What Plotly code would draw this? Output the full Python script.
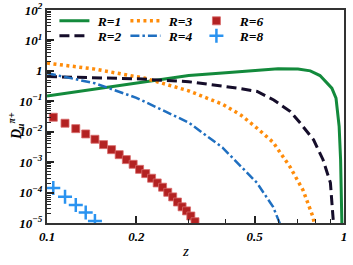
import plotly.graph_objects as go

# ---- data ----
z_r1 = [0.1, 0.15, 0.2, 0.3, 0.4, 0.5, 0.6, 0.7, 0.77, 0.83, 0.87, 0.91, 0.94, 0.952, 0.963, 0.974, 0.98, 0.985]
d_r1 = [0.15, 0.27, 0.39, 0.7, 0.86, 1.05, 1.17, 1.15, 1.0, 0.7, 0.44, 0.27, 0.126, 0.05, 0.015, 1.2e-3, 6e-5, 5e-6]

z_r2 = [0.1, 0.15, 0.2, 0.3, 0.39, 0.45, 0.51, 0.58, 0.66, 0.71, 0.79, 0.85, 0.9, 0.918, 0.93]
d_r2 = [0.65, 0.6, 0.55, 0.44, 0.32, 0.26, 0.21, 0.11, 0.046, 0.02, 0.0054, 0.0012, 2.1e-4, 1.6e-5, 3e-6]

z_r3 = [0.1, 0.145, 0.214, 0.3, 0.39, 0.45, 0.51, 0.577, 0.658, 0.728, 0.786, 0.805]
d_r3 = [1.8, 1.14, 0.57, 0.22, 0.08, 0.035, 0.013, 0.0045, 7e-4, 1.2e-4, 1.6e-5, 5e-6]

z_r4 = [0.1, 0.145, 0.2, 0.25, 0.3, 0.39, 0.447, 0.509, 0.577, 0.625]
d_r4 = [0.84, 0.39, 0.13, 0.048, 0.02, 0.003, 8e-4, 2.1e-4, 3.4e-5, 5e-6]

z_r6 = [0.105, 0.115, 0.125, 0.135, 0.145, 0.155, 0.165, 0.175, 0.185, 0.195, 0.205,
        0.215, 0.225, 0.235, 0.245, 0.255, 0.265, 0.275, 0.285, 0.295, 0.305, 0.315]
d_r6 = [0.0299, 0.019, 0.0126, 0.00844, 0.00565, 0.00376, 0.00257, 0.00176, 0.00121, 8.5e-4, 5.8e-4,
        4.2e-4, 2.96e-4, 2.07e-4, 1.5e-4, 1.02e-4, 7.2e-5, 4.9e-5, 3.4e-5, 2.5e-5, 1.7e-5, 1.1e-5]

z_r8 = [0.105, 0.115, 0.125, 0.135, 0.145]
d_r8 = [1.42e-4, 7.3e-5, 3.9e-5, 2.2e-5, 1.17e-5]

x_tickvals = [0.1, 0.2, 0.5, 1]
x_ticktext = ["0.1", "0.2", "0.5", "1"]
y_tickvals = [1e-5, 1e-4, 1e-3, 1e-2, 1e-1, 1, 10, 100]
y_ticktext = ["10<sup>−5</sup>", "10<sup>−4</sup>", "10<sup>−3</sup>", "10<sup>−2</sup>",
              "10<sup>−1</sup>", "1", "10<sup>1</sup>", "10<sup>2</sup>"]

SERIF = "Liberation Serif"
tickfont = dict(family=SERIF, size=13, color="black", weight="bold", style="italic")

NB = "\u00a0"
fig = go.Figure()
fig.add_trace(go.Scatter(x=z_r1, y=d_r1, mode="lines", name=NB + "R=1", legend="legend",
                         line=dict(color="#138a3c", width=3)))
fig.add_trace(go.Scatter(x=z_r3, y=d_r3, mode="lines", name=NB + "R=3", legend="legend",
                         line=dict(color="#ff8c0a", width=3.5, dash="3px,3.5px")))
fig.add_trace(go.Scatter(x=z_r6, y=d_r6, mode="markers", name=NB + "R=6", legend="legend",
                         marker=dict(symbol="square", size=8, color="#b32222",
                                     line=dict(color="#d86a6a", width=0.8))))
fig.add_trace(go.Scatter(x=z_r2, y=d_r2, mode="lines", name=NB + "R=2", legend="legend2",
                         line=dict(color="#150d2a", width=3, dash="10px,5px")))
fig.add_trace(go.Scatter(x=z_r4, y=d_r4, mode="lines", name=NB + "R=4", legend="legend2",
                         line=dict(color="#1f6fc0", width=2.5, dash="9px,3px,2.5px,3px")))
fig.add_trace(go.Scatter(x=z_r8, y=d_r8, mode="markers", name=NB + "R=8", legend="legend2",
                         marker=dict(symbol="cross-thin", size=10, color="#2a93f0",
                                     line=dict(color="#2a93f0", width=2.5))))

legfont = dict(family=SERIF, size=13.5, color="black", weight="bold", style="italic")
common_leg = dict(orientation="h", bgcolor="rgba(0,0,0,0)", borderwidth=0, font=legfont,
                  xanchor="left", yanchor="middle", entrywidth=26, entrywidthmode="pixels",
                  xref="paper", yref="paper")

fig.update_layout(
    width=353, height=265,
    margin=dict(l=47, r=9, t=10, b=42, autoexpand=False),
    paper_bgcolor="white", plot_bgcolor="white",
    showlegend=True,
    legend=dict(x=0.025, y=0.948, **common_leg),
    legend2=dict(x=0.025, y=0.878, **common_leg),
    xaxis=dict(type="log", range=[-1, 0], tickvals=x_tickvals, ticktext=x_ticktext,
               ticks="inside", ticklen=7, tickwidth=1.5, tickcolor="#222",
               showline=True, linecolor="#333", linewidth=2, mirror=True, automargin=False,
               showgrid=False, zeroline=False, tickfont=tickfont,
               minor=dict(tickvals=[0.3, 0.4, 0.6, 0.7, 0.8, 0.9], ticks="inside",
                          ticklen=4, tickwidth=1.2, tickcolor="#222", showgrid=False)),
    yaxis=dict(type="log", range=[-5, 2], tickvals=y_tickvals, ticktext=y_ticktext,
               ticks="inside", ticklen=7, tickwidth=1.5, tickcolor="#222",
               showline=True, linecolor="#333", linewidth=2, mirror=True, automargin=False,
               showgrid=False, zeroline=False, tickfont=tickfont,
               minor=dict(tickvals=[m * 10.0 ** e for e in range(-5, 2) for m in range(2, 10)],
                          ticks="inside", ticklen=4, tickwidth=1, tickcolor="#222", showgrid=False)),
    annotations=[
        dict(text="z", xref="paper", yref="paper", x=(185 - 47) / 297, y=-(251 - 223) / 213,
             xanchor="center", yanchor="middle", showarrow=False,
             font=dict(family=SERIF, size=15, color="black", style="italic")),
        dict(text="D<sub>u</sub><sup>π+</sup>", xref="paper", yref="paper",
             x=-(47 - 16) / 297, y=(223 - 126) / 213, textangle=-90,
             xanchor="center", yanchor="middle", showarrow=False,
             font=dict(family=SERIF, size=14, color="black", style="italic", weight="bold")),
    ],
)

fig.write_html("out.html", config={"displayModeBar": False},
               post_script="document.body.style.margin='0px';document.body.style.padding='0px';")
